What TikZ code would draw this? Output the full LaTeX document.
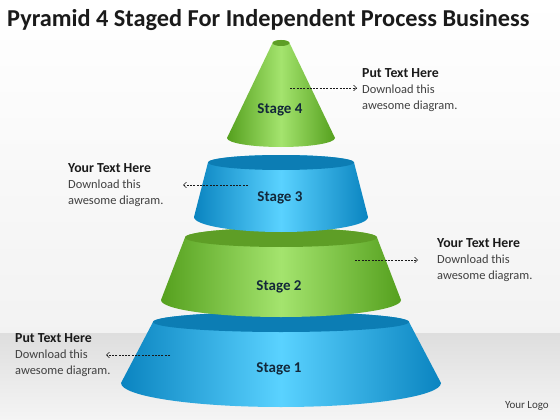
\documentclass[tikz,border=0pt]{standalone}
\usepackage{fontspec}
\setmainfont{Carlito}
\usepackage{xcolor}
\definecolor{grdk}{HTML}{55A01E}
\definecolor{grlt}{HTML}{A4E46E}
\definecolor{grtp}{HTML}{5E9E26}
\definecolor{bldk}{HTML}{0A84C0}
\definecolor{bllt}{HTML}{5AD2FF}
\definecolor{bltp}{HTML}{0C7DB4}
\definecolor{ink}{HTML}{1A1A1A}
\definecolor{navy}{HTML}{13283A}
\definecolor{mute}{HTML}{404040}
\usetikzlibrary{arrows.meta}
\tikzset{
  stg/.style={font=\fontsize{15}{18}\selectfont\bfseries,text=navy,inner sep=0pt},
  blk/.style={anchor=north west,inner sep=0pt,align=left,font=\fontsize{12.4}{16}\selectfont,text=mute},
  darr/.style={-{Straight Barb[length=3pt,width=5.5pt]},draw=ink,line width=0.55pt,dash pattern=on 2pt off 1.3pt},
}
\newcommand{\hd}[1]{\textcolor{ink}{\fontsize{13.8}{16}\selectfont\bfseries #1}}
% one tier: ytop, rtop, rytop, ybot, rbot, rybot, colour family
\def\cx{281}
\newcommand{\tier}[7]{%
  \path[left color=#7dk,right color=#7dk,middle color=#7lt]
    (\cx-#2,-#1) -- (\cx-#5,-#4)
    arc[start angle=180,end angle=360,x radius=#5,y radius=#6]
    -- (\cx+#2,-#1)
    arc[start angle=0,end angle=180,x radius=#2,y radius=#3] -- cycle;
  \fill[#7tp] (\cx,-#1) ellipse[x radius=#2,y radius=#3];}

\begin{document}
\begin{tikzpicture}[x=1pt,y=1pt]
\useasboundingbox (0,0) rectangle (560,-420);
% background
\fill[top color=white,bottom color=gray!10] (0,0) rectangle (560,-333);
\fill[top color=gray!26,bottom color=gray!8] (0,-333) rectangle (560,-420);
\node[anchor=west,inner sep=0pt,font=\fontsize{24.3}{28}\selectfont\bfseries,text=ink] (title) at (7,-20)
  {Pyramid 4 Staged For Independent Process Business};

% tiers, bottom first
\tier{322}{128}{10}{383}{160}{24}{bl}
\tier{237.5}{96}{9.5}{300}{120}{17}{gr}
\tier{162.5}{73}{7.5}{217}{87}{15}{bl}
\tier{43}{8.5}{3}{138}{54}{9}{gr}

\node[stg] (s4) at (280,-110) {Stage 4};
\node[stg] (s3) at (280,-198) {Stage 3};
\node[stg] (s2) at (279,-287) {Stage 2};
\node[stg] (s1) at (279,-369) {Stage 1};

\node[blk] (t4) at (362,-68) {\hd{Put Text Here}\\Download this\\awesome diagram.};
\node[blk] (t3) at (68,-163) {\hd{Your Text Here}\\Download this\\awesome diagram.};
\node[blk] (t2) at (437,-238) {\hd{Your Text Here}\\Download this\\awesome diagram.};
\node[blk] (t1) at (15,-333) {\hd{Put Text Here}\\Download this\\awesome diagram.};

\coordinate (a4s) at (290,-88);  \coordinate (a4e) at (357,-88);
\coordinate (a3s) at (248,-185); \coordinate (a3e) at (183,-185);
\coordinate (a2s) at (355,-260); \coordinate (a2e) at (418,-260);
\coordinate (a1s) at (170,-355); \coordinate (a1e) at (106,-355);
\draw[darr] (a4s) -- (a4e); \draw[darr] (a3s) -- (a3e);
\draw[darr] (a2s) -- (a2e); \draw[darr] (a1s) -- (a1e);

\node[anchor=east,inner sep=0pt,font=\fontsize{11}{13}\selectfont,text=ink!85] (logo) at (549,-406) {Your Logo};
\end{tikzpicture}
\end{document}
